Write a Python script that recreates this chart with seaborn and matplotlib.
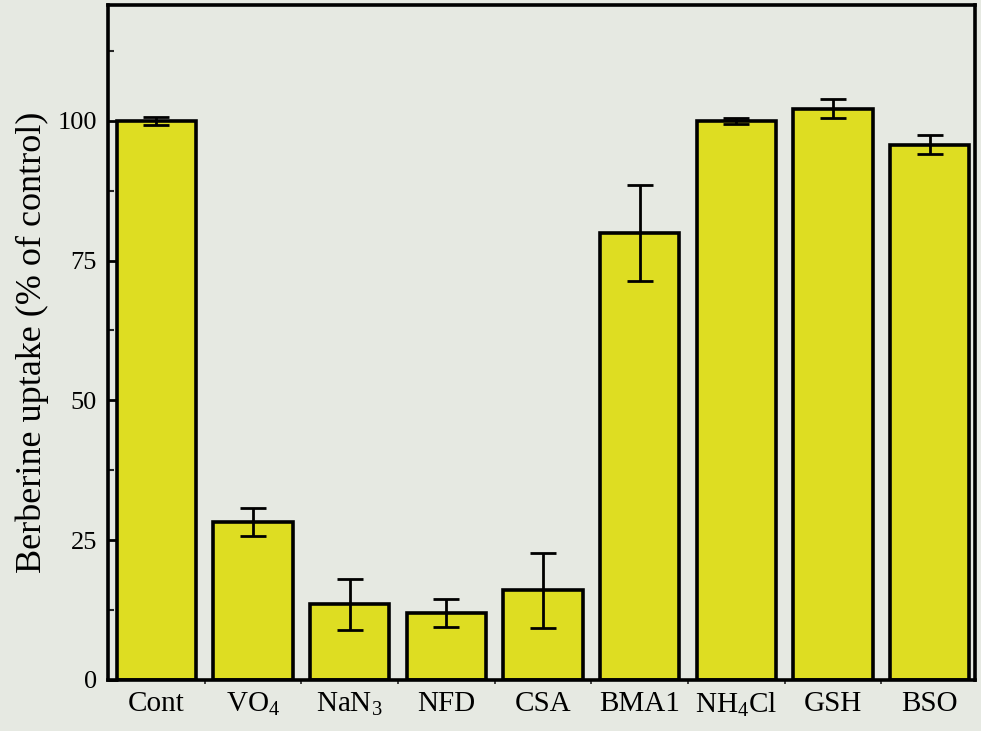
import matplotlib
matplotlib.use("Agg")
import matplotlib.pyplot as plt
from matplotlib.ticker import MultipleLocator, FixedLocator
import seaborn as sns
import pandas as pd
import numpy as np

# Berberine uptake under different inhibitors (% of control)
treatments = ["Cont", "VO$_4$", "NaN$_3$", "NFD", "CSA", "BMA1", "NH$_4$Cl", "GSH", "BSO"]
uptake = [100.0, 28.2, 13.5, 11.9, 16.0, 80.0, 100.0, 102.2, 95.7]
sem = [0.7, 2.5, 4.5, 2.5, 6.7, 8.6, 0.5, 1.7, 1.7]
y_ticks = [0, 25, 50, 75, 100]

sns.set_theme(style="white")
plt.rcParams["font.family"] = ["Liberation Serif", "DejaVu Serif"]
plt.rcParams["mathtext.fontset"] = "custom"
plt.rcParams["mathtext.rm"] = "Liberation Serif"
plt.rcParams["mathtext.it"] = "Liberation Serif:italic"
plt.rcParams["mathtext.bf"] = "Liberation Serif:bold"
plt.rcParams["mathtext.default"] = "rm"

bg = "#e6e9e2"
bar_color = "#dedd22"

fig = plt.figure(figsize=(9.81, 7.31), dpi=100, facecolor=bg)
ax = fig.add_axes([0.110, 0.070, 0.884, 0.923])
ax.set_facecolor(bg)

df = pd.DataFrame({"treatment": treatments, "uptake": uptake})
sns.barplot(data=df, x="treatment", y="uptake", errorbar=None, color=bar_color,
            saturation=1, edgecolor="black", linewidth=2.6, width=0.82, ax=ax)

ax.errorbar(np.arange(len(treatments)), uptake, yerr=sem, fmt="none",
            ecolor="black", elinewidth=2.0, capsize=9.5, capthick=2.0, zorder=5)

ax.set_xlim(-0.5, 8.47)
ax.set_ylim(0, 120.7)
ax.set_yticks(y_ticks)
ax.yaxis.set_minor_locator(MultipleLocator(12.5))
ax.xaxis.set_minor_locator(FixedLocator(np.arange(0.5, len(treatments) - 1, 1.0)))

ax.tick_params(axis="y", which="major", direction="in", length=7, width=2.0,
               labelsize=19, pad=8, colors="black", left=True)
ax.tick_params(axis="y", which="minor", direction="in", length=4, width=1.5, left=True)
ax.tick_params(axis="x", which="major", length=0, labelsize=21, pad=8, colors="black")
ax.tick_params(axis="x", which="minor", direction="out", length=3, width=1.2, bottom=True)

ax.set_xlabel("")
ax.set_ylabel("Berberine uptake (% of control)", fontsize=26, labelpad=6, color="black")

for s in ax.spines.values():
    s.set_visible(True)
    s.set_color("black")
    s.set_linewidth(2.6)

fig.savefig("out.png", dpi=100, facecolor=bg)
